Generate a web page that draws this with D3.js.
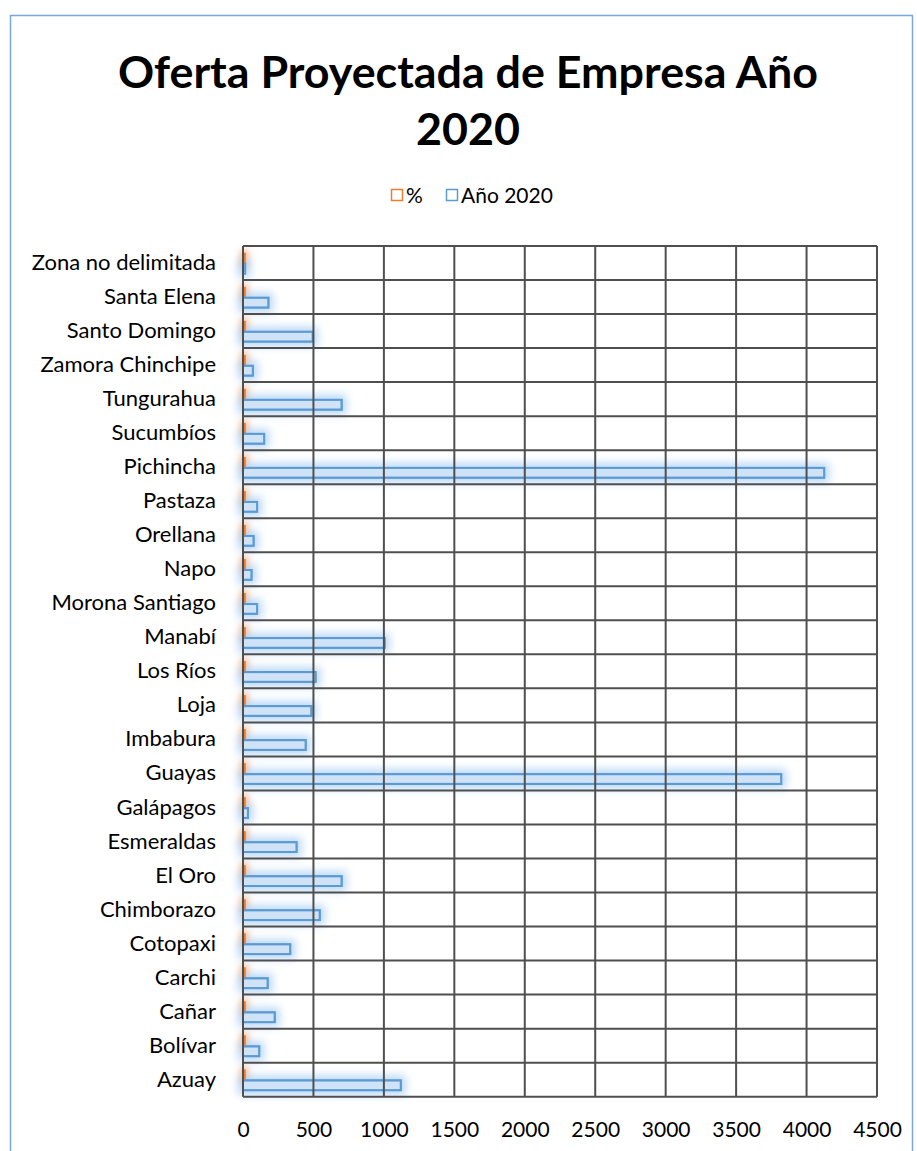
<!DOCTYPE html>
<html>
<head>
<meta charset="utf-8">
<script src="https://cdn.jsdelivr.net/npm/d3@7"></script>
<style>
  body { margin: 0; background: #fff; }
  svg { display: block; }
</style>
</head>
<body>
<script>
// Provinces, listed from the bottom of the chart upwards
const categories = ["Azuay", "Bolívar", "Cañar", "Carchi", "Cotopaxi", "Chimborazo", "El Oro",
  "Esmeraldas", "Galápagos", "Guayas", "Imbabura", "Loja", "Los Ríos", "Manabí",
  "Morona Santiago", "Napo", "Orellana", "Pastaza", "Pichincha", "Sucumbíos", "Tungurahua",
  "Zamora Chinchipe", "Santo Domingo", "Santa Elena", "Zona no delimitada"];

// Projected number of companies, year 2020
const anio2020 = [1120, 115, 225, 175, 335, 545, 700, 380, 35, 3820, 445, 485, 515, 1005,
  100, 60, 75, 100, 4125, 150, 700, 70, 495, 180, 15];

// Share of the national total (fraction)
const porcentaje = [0.070, 0.007, 0.014, 0.011, 0.021, 0.034, 0.044, 0.024, 0.002, 0.239,
  0.028, 0.030, 0.032, 0.063, 0.006, 0.004, 0.005, 0.006, 0.258, 0.009, 0.044, 0.004,
  0.031, 0.011, 0.001];

const seriesNames = ["%", "Año 2020"];
const xTicks = [0, 500, 1000, 1500, 2000, 2500, 3000, 3500, 4000, 4500];
const titleLines = ["Oferta Proyectada de Empresa Año", "2020"];

const W = 917, H = 1151;
const plot = { left: 243, right: 877, top: 246, bottom: 1096.7 };
const FONT = "Lato, 'Open Sans', sans-serif";
const BLUE = "#5b9bd5", ORANGE = "#ed7d31", GRID = "#4f4f4f";

const rows = categories.map((c, i) => ({ cat: c, values: [porcentaje[i], anio2020[i]] }));

const svg = d3.select("body").append("svg").attr("width", W).attr("height", H);

// Soft glow around the bars
const defs = svg.append("defs");
function glow(id, color, opacity, grow, blur) {
  const f = defs.append("filter").attr("id", id)
    .attr("filterUnits", "userSpaceOnUse")
    .attr("x", 0).attr("y", 0).attr("width", W).attr("height", H);
  f.append("feMorphology").attr("in", "SourceAlpha").attr("operator", "dilate")
    .attr("radius", grow).attr("result", "grown");
  f.append("feGaussianBlur").attr("in", "grown").attr("stdDeviation", blur).attr("result", "blur");
  f.append("feFlood").attr("flood-color", color).attr("flood-opacity", opacity).attr("result", "col");
  f.append("feComposite").attr("in", "col").attr("in2", "blur").attr("operator", "in").attr("result", "halo");
  const m = f.append("feMerge");
  m.append("feMergeNode").attr("in", "halo");
  m.append("feMergeNode").attr("in", "SourceGraphic");
}
glow("glowBlue", "#b0d2f5", 0.85, 4, 4.5);
glow("glowOrange", "#f7b68a", 0.9, 3, 3);

// Outer frame
svg.append("rect")
  .attr("x", 10.5).attr("y", 15.5).attr("width", W - 15).attr("height", H)
  .attr("fill", "none").attr("stroke", "#79a7dc").attr("stroke-width", 1.5);

// Title
const title = svg.append("g");
titleLines.forEach((t, i) => {
  title.append("text")
    .attr("x", 468).attr("y", 88 + i * 57)
    .attr("text-anchor", "middle")
    .attr("font-family", FONT).attr("font-weight", 700).attr("font-size", 42)
    .attr("fill", "#000").text(t);
});
const firstLine = title.select("text").node();
const len = firstLine.getComputedTextLength();
title.selectAll("text").attr("font-size", 42 * 700 / len);

// Scales
const x = d3.scaleLinear().domain([0, 4500]).range([plot.left, plot.right]);
const y = d3.scaleBand().domain(categories.slice().reverse()).range([plot.top, plot.bottom]);
const ys = d3.scaleBand().domain(seriesNames).range([8, 27.5]);
const colors = d3.scaleOrdinal().domain(seriesNames).range([ORANGE, BLUE]);

// Legend
const legend = svg.append("g").attr("font-family", FONT).attr("font-size", 21);
const legendItems = [{ name: seriesNames[0], x: 391 }, { name: seriesNames[1], x: 446 }];
legendItems.forEach(it => {
  legend.append("rect").attr("x", it.x + 0.5).attr("y", 189.5).attr("width", 11).attr("height", 11)
    .attr("fill", "#fff").attr("stroke", colors(it.name)).attr("stroke-width", 1.5);
  legend.append("text").attr("x", it.x + 15).attr("y", 202.5).attr("fill", "#000").text(it.name);
});

const barData = d => d.values.map((v, i) => ({ s: seriesNames[i], v }));
const barWidth = d => Math.max(0.5, x(d.v) - x(0));

// Bar glows (under grid)
const groups = svg.append("g").selectAll("g").data(rows).join("g")
  .attr("transform", d => `translate(0,${y(d.cat)})`);

groups.selectAll("rect.halo").data(barData)
  .join("rect").attr("class", "halo")
  .attr("x", d => d.s === "%" ? x(0) + 1 : x(0)).attr("y", d => ys(d.s))
  .attr("width", barWidth).attr("height", ys.bandwidth())
  .attr("fill", d => d.s === "%" ? "#f8c39e" : "#cfe2f6")
  .attr("stroke", d => colors(d.s)).attr("stroke-width", 2)
  .attr("filter", d => d.s === "%" ? "url(#glowOrange)" : "url(#glowBlue)");

// Grid
const grid = svg.append("g").attr("stroke", GRID).attr("stroke-width", 2);
grid.selectAll("line.v").data(xTicks).join("line").attr("class", "v")
  .attr("x1", d => x(d)).attr("x2", d => x(d))
  .attr("y1", plot.top).attr("y2", plot.bottom);
const hLines = categories.slice().reverse().map(c => y(c)).concat([plot.bottom]);
grid.selectAll("line.h").data(hLines).join("line").attr("class", "h")
  .attr("x1", plot.left).attr("x2", plot.right)
  .attr("y1", d => d).attr("y2", d => d);

// Bar outlines over the grid, semi-transparent fill
groups.selectAll("rect.bar").data(barData)
  .join("rect").attr("class", "bar")
  .attr("x", d => d.s === "%" ? x(0) + 1 : x(0)).attr("y", d => ys(d.s))
  .attr("width", barWidth).attr("height", ys.bandwidth())
  .attr("fill", d => d.s === "%" ? "rgba(248,195,158,0.5)" : "rgba(207,226,246,0.55)")
  .attr("stroke", d => colors(d.s)).attr("stroke-width", d => d.s === "%" ? 2.5 : 2);

// Axes
const xAxis = svg.append("g").attr("transform", `translate(0,${plot.bottom})`)
  .call(d3.axisBottom(x).tickValues(xTicks).tickFormat(d3.format("d")).tickSize(0).tickPadding(25));
const yAxis = svg.append("g").attr("transform", `translate(${plot.left},0)`)
  .call(d3.axisLeft(y).tickSize(0).tickPadding(27));
[xAxis, yAxis].forEach(a => {
  a.select(".domain").remove();
  a.selectAll("text").attr("font-family", FONT).attr("fill", "#000");
});
xAxis.selectAll("text").attr("font-size", 21);
yAxis.selectAll("text").attr("font-size", 22);
</script>
</body>
</html>
